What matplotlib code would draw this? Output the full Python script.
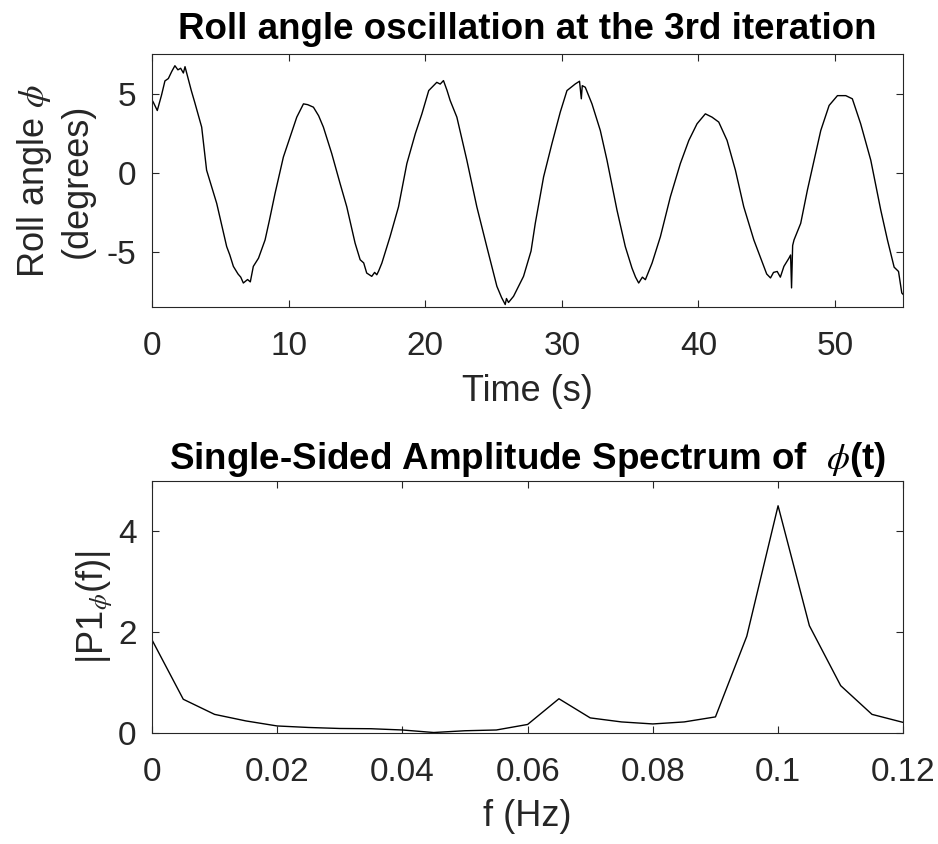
import numpy as np
import matplotlib
matplotlib.use('Agg')
import matplotlib.pyplot as plt
from matplotlib.ticker import FuncFormatter

plt.rcParams['font.family'] = ['Liberation Sans', 'DejaVu Sans']
plt.rcParams['mathtext.fontset'] = 'stix'
plt.rcParams['axes.unicode_minus'] = False

# roll angle time series
time_s = [0.0, 0.1, 0.39, 0.7, 0.95, 1.2, 1.45, 1.68, 1.9, 2.1, 2.3, 2.42, 2.6, 2.88, 3.13,
          3.64, 4.0, 4.3, 4.74, 5.1, 5.47, 5.7, 5.96, 6.3, 6.5, 6.69, 7.0, 7.2, 7.42, 7.8,
          8.28, 8.6, 9.01, 9.62, 10.11, 10.6, 11.09, 11.4, 11.82, 12.2, 12.55, 13.16, 13.77,
          14.26, 14.87, 15.24, 15.5, 15.72, 16.09, 16.3, 16.46, 16.6, 16.83, 17.43, 18.05, 18.66,
          19.28, 19.76, 20.26, 20.85, 21.1, 21.34, 21.6, 21.83, 22.32, 23.05,
          23.78, 24.51, 25.25, 25.6, 25.86, 25.95, 26.1, 26.47, 27.2, 27.75, 28.06,
          28.67, 29.28, 29.89, 30.38, 30.99, 31.3, 31.43, 31.5, 31.72, 32.21,
          32.82, 33.31, 34.04, 34.65, 35.14, 35.4, 35.63, 35.9, 36.12, 36.61,
          37.22, 37.95, 38.68, 39.3, 39.9, 40.51, 41.0, 41.49, 42.1, 42.71,
          43.32, 44.06, 44.79, 45.0, 45.28, 45.5, 45.77, 46.0, 46.26, 46.63,
          46.75, 46.82, 46.9, 47.0, 47.49, 47.98, 48.47, 48.96, 49.57, 50.18,
          50.79, 51.27, 51.88, 52.62, 53.35, 53.84, 54.33, 54.65, 54.89, 55.0]
roll_deg = [4.6, 4.45, 3.93, 4.9, 5.8, 5.95, 6.4, 6.76, 6.5, 6.6, 6.3, 6.7, 6.1, 5.19, 4.45,
            2.88, 0.16, -0.7, -1.94, -3.3, -4.67, -5.2, -5.92, -6.4, -6.6, -6.97, -6.75, -6.9, -5.92, -5.4,
            -4.25, -3.0, -1.31, 0.99, 2.25, 3.51, 4.35, 4.3, 4.14, 3.6, 2.88, 1.21, -0.68,
            -2.15, -4.45, -5.5, -5.7, -6.34, -6.55, -6.3, -6.45, -6.2, -5.71, -4.04, -2.15, 0.58,
            2.47, 3.72, 5.19, 5.71, 5.6, 5.82, 5.2, 4.56, 3.51, 0.79,
            -2.15, -4.67, -7.18, -7.9, -8.33, -7.95, -8.2, -7.81, -6.55, -4.95, -3.2,
            -0.26, 1.84, 3.83, 5.19, 5.61, 5.78, 4.67, 5.5, 5.4, 4.35,
            2.67, 0.79, -2.36, -4.67, -6.03, -6.6, -6.97, -6.6, -6.76, -5.71,
            -4.04, -1.52, 0.58, 2.04, 3.09, 3.72, 3.51, 3.2, 2.04, 0.16,
            -2.15, -4.25, -5.92, -6.4, -6.65, -6.3, -6.24, -6.6, -5.92, -5.4,
            -5.2, -7.28, -4.6, -4.25, -3.2, -1.1, 0.79, 2.67, 4.25, 4.87,
            4.87, 4.67, 3.09, 0.79, -2.36, -4.25, -5.97, -6.24, -7.6, -7.7]

# single-sided spectrum
freq_hz = [0.0, 0.005, 0.01, 0.015, 0.02, 0.025, 0.03, 0.035, 0.04, 0.045, 0.05, 0.055, 0.06,
           0.065, 0.07, 0.075, 0.08, 0.085, 0.09, 0.095, 0.1, 0.105, 0.11, 0.115, 0.12]
amp = [1.85, 0.67, 0.37, 0.24, 0.14, 0.11, 0.09, 0.085, 0.06, 0.01, 0.045, 0.06, 0.17,
       0.68, 0.3, 0.22, 0.18, 0.22, 0.32, 1.92, 4.51, 2.13, 0.94, 0.37, 0.21]

axcol = '#262626'
tick_fs = 24
lab_fs = 26
title_fs = 26.5

fig = plt.figure(figsize=(9.38, 8.44), dpi=100)
ax1 = fig.add_axes([0.162, 0.636, 0.801, 0.300])
ax2 = fig.add_axes([0.162, 0.1315, 0.801, 0.2985])

ax1.plot(time_s, roll_deg, color='black', linewidth=1.0)
ax1.set_xlim(0, 55)
ax1.set_ylim(-8.5, 7.5)
ax1.set_xticks([0, 10, 20, 30, 40, 50])
ax1.set_yticks([-5, 0, 5])
ax1.set_xlabel('Time (s)', fontsize=lab_fs, color=axcol, labelpad=9)
ax1.set_ylabel('Roll angle $\\phi$\n(degrees)', fontsize=lab_fs, color=axcol, labelpad=9)
ax1.set_title('Roll angle oscillation at the 3rd iteration', fontsize=title_fs,
              fontweight='bold', pad=11)

ax2.plot(freq_hz, amp, color='black', linewidth=1.0)
ax2.set_xlim(0, 0.12)
ax2.set_ylim(0, 5)
ax2.set_xticks([0, 0.02, 0.04, 0.06, 0.08, 0.1, 0.12])
ax2.set_yticks([0, 2, 4])
ax2.xaxis.set_major_formatter(FuncFormatter(lambda v, p: '%g' % v))
ax2.set_xlabel('f (Hz)', fontsize=lab_fs, color=axcol, labelpad=8)
ax2.set_ylabel('|P1$_\\phi$(f)|', fontsize=lab_fs, color=axcol, labelpad=2)
ax2.set_title('Single-Sided Amplitude Spectrum of  $\\phi$(t)', fontsize=title_fs,
              fontweight='bold', pad=9)

for ax in (ax1, ax2):
    ax.tick_params(direction='in', top=True, right=True, length=5, width=0.8,
                   labelsize=tick_fs, colors=axcol)
    ax.tick_params(axis='x', pad=17)
    ax.tick_params(axis='y', pad=11)
    for s in ax.spines.values():
        s.set_color(axcol)
        s.set_linewidth(0.8)

fig.savefig('out.png', dpi=100)
